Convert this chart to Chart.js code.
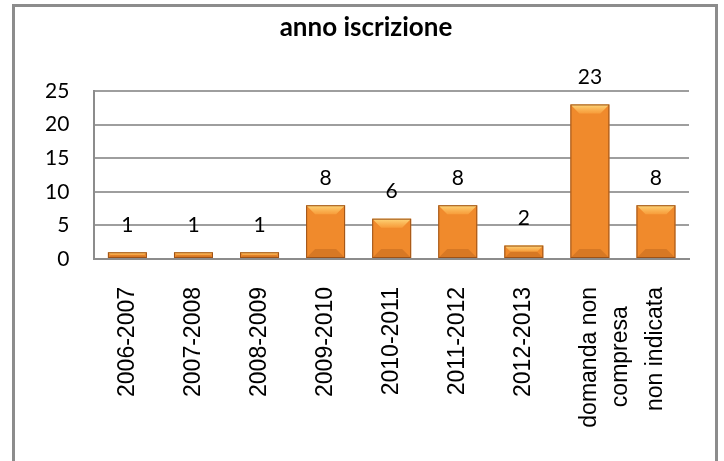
<!DOCTYPE html>
<html>
<head>
<meta charset="utf-8">
<script src="https://cdn.jsdelivr.net/npm/chart.js@4.4.0/dist/chart.umd.min.js"></script>
<style>
  body { margin: 0; background: #fff; }
  #wrap { position: relative; width: 724px; height: 461px; overflow: hidden; }
  #frame {
    position: absolute; left: 12px; top: 4px; width: 700px; height: 480px;
    border: 3px solid #8c8c8c; pointer-events: none;
  }
</style>
</head>
<body>
<div id="wrap">
  <canvas id="myChart" width="724" height="461"></canvas>
  <div id="frame"></div>
</div>
<script>
// anno iscrizione
var chartTitle = "anno iscrizione";
var xValues = ["2006-2007", "2007-2008", "2008-2009", "2009-2010", "2010-2011",
  "2011-2012", "2012-2013", ["domanda non", "compresa   "], "non indicata"];
var yValues = [1, 1, 1, 8, 6, 8, 2, 23, 8];
var yTicks = [0, 5, 10, 15, 20, 25];

// orange bar with a horizontal shading, like the excel bevel
function barFill(context) {
  var chart = context.chart;
  var el = context.element;
  if (!el || !isFinite(el.x) || !isFinite(el.width)) return "#f08a2c";
  var half = el.width / 2;
  var g = chart.ctx.createLinearGradient(el.x - half, 0, el.x + half, 0);
  g.addColorStop(0, "#c4631a");
  g.addColorStop(0.12, "#ea8428");
  g.addColorStop(0.5, "#f8932f");
  g.addColorStop(0.88, "#e8822a");
  g.addColorStop(1, "#b85c18");
  return g;
}

var bevelPlugin = {
  id: "bevel",
  afterDatasetsDraw: function(chart) {
    var ctx = chart.ctx;
    chart.getDatasetMeta(0).data.forEach(function(bar) {
      var l = bar.x - bar.width / 2, r = bar.x + bar.width / 2;
      var t = bar.y, b = bar.base;
      var s = Math.min(9, (b - t) / 2);
      ctx.save();
      // top bevel
      var gt = ctx.createLinearGradient(0, t, 0, t + s);
      gt.addColorStop(0, "rgba(255, 222, 130, 0.95)");
      gt.addColorStop(1, "rgba(252, 170, 70, 0.6)");
      ctx.fillStyle = gt;
      ctx.beginPath();
      ctx.moveTo(l, t); ctx.lineTo(r, t); ctx.lineTo(r - s, t + s); ctx.lineTo(l + s, t + s);
      ctx.closePath(); ctx.fill();
      // bottom bevel
      ctx.fillStyle = "rgba(160, 80, 20, 0.3)";
      ctx.beginPath();
      ctx.moveTo(l, b); ctx.lineTo(r, b); ctx.lineTo(r - s, b - s); ctx.lineTo(l + s, b - s);
      ctx.closePath(); ctx.fill();
      ctx.strokeStyle = "#9c5218";
      ctx.lineWidth = 1;
      ctx.strokeRect(l + 0.5, t + 0.5, r - l - 1, b - t - 1);
      ctx.restore();
    });
  }
};

var labelPlugin = {
  id: "valueLabels",
  afterDatasetsDraw: function(chart) {
    var ctx = chart.ctx;
    ctx.save();
    ctx.font = "21px Lato";
    ctx.fillStyle = "#000";
    ctx.textAlign = "center";
    ctx.textBaseline = "middle";
    chart.getDatasetMeta(0).data.forEach(function(bar, i) {
      ctx.fillText(yValues[i], bar.x, bar.y - 27);
    });
    // title, centred in the frame
    ctx.font = "bold 26px Lato";
    ctx.fillText(chartTitle, 366, 28);
    ctx.restore();
  }
};

new Chart("myChart", {
  type: "bar",
  data: {
    labels: xValues,
    datasets: [{
      data: yValues,
      backgroundColor: barFill,
      barPercentage: 0.59,
      categoryPercentage: 1
    }]
  },
  options: {
    responsive: false,
    animation: false,
    layout: { padding: { left: 20, right: 35, top: 91, bottom: 34 } },
    plugins: {
      legend: { display: false },
      tooltip: { enabled: false },
      title: { display: false }
    },
    scales: {
      x: {
        grid: { display: false },
        border: { display: true, color: "#8c8c8c", width: 2 },
        ticks: {
          autoSkip: false,
          minRotation: 90,
          maxRotation: 90,
          padding: 20,
          color: "#000",
          font: { family: "Liberation Sans", size: 23, lineHeight: 1.35 }
        }
      },
      y: {
        min: 0,
        max: 25,
        afterBuildTicks: function(axis) {
          axis.ticks = yTicks.map(function(v) { return { value: v }; });
        },
        grid: { color: "#9e9e9e", lineWidth: 2, drawTicks: false },
        border: { display: true, color: "#8c8c8c", width: 2 },
        ticks: {
          padding: 25,
          color: "#000",
          font: { family: "Lato", size: 21 }
        }
      }
    }
  },
  plugins: [bevelPlugin, labelPlugin]
});
</script>
</body>
</html>
